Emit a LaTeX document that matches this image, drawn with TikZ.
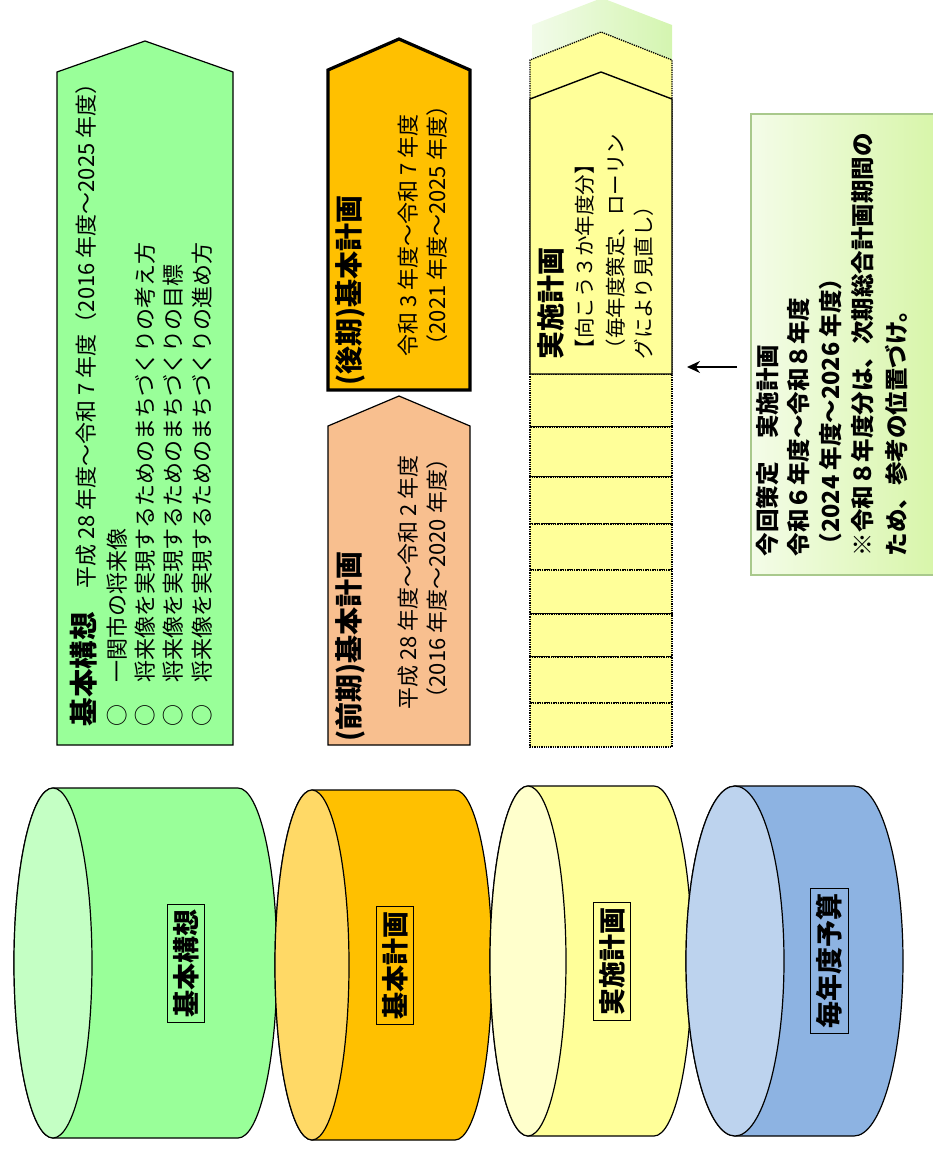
\documentclass[tikz,border=0pt]{standalone}
\usepackage{fontspec}
\setmainfont{Noto Sans CJK JP}
\usepackage{xcolor}
\usepackage{tikz}
\usetikzlibrary{arrows.meta}

\definecolor{kousouG}{HTML}{99FF99}
\definecolor{zenkiO}{HTML}{F8BF8F}
\definecolor{koukiO}{HTML}{FFC000}
\definecolor{jisshiY}{HTML}{FFFF99}
\definecolor{shadeL}{HTML}{F2FBEA}
\definecolor{shadeR}{HTML}{D4F5B0}
\definecolor{noteL}{HTML}{F4FCE8}
\definecolor{noteR}{HTML}{D6F5A6}
\definecolor{noteBd}{HTML}{A9C98C}
\definecolor{cylG}{HTML}{99FF99}
\definecolor{cylGf}{HTML}{C4FFC4}
\definecolor{cylO}{HTML}{FFC000}
\definecolor{cylOf}{HTML}{FFD966}
\definecolor{cylY}{HTML}{FFFF99}
\definecolor{cylYf}{HTML}{FFFFCC}
\definecolor{cylB}{HTML}{8DB3E2}
\definecolor{cylBf}{HTML}{BDD3EE}

\begin{document}
\begin{tikzpicture}[x=1pt,y=-1pt,line width=1.2pt,
        vtxt/.style={rotate=90,anchor=west,inner sep=0pt,font=\fontsize{22}{22}\selectfont},
        jtxt/.style={vtxt,font=\fontsize{20.5}{20.5}\selectfont},
        vbold/.style={vtxt,font=\fontsize{28}{28}\selectfont\bfseries},
        nbold/.style={vtxt,font=\fontsize{23.5}{23.5}\selectfont\bfseries},
        dotbox/.style={densely dotted,line width=1.3pt,fill=jisshiY},
        cyllbl/.style={draw,line width=0.9pt,rotate=90,inner xsep=5pt,inner ysep=6pt,font=\fontsize{27}{27}\selectfont\bfseries}]
    \clip (0,0) rectangle (933,1154);
    % pentagons
    \draw [fill=kousouG] (57,745) -- (57,72) -- (145,41) -- (233,72) -- (233,745) -- cycle;
    \draw [fill=zenkiO] (328,745) -- (328,426) -- (399,396) -- (470,426) -- (470,745) -- cycle;
    \draw [fill=koukiO,line width=3.2pt] (328,390) -- (328,70) -- (399,39) -- (470,70) -- (470,390) -- cycle;
    % jisshi column
    \shade [left color=shadeL,right color=shadeR] (532,78) -- (532,25) -- (602,-2) -- (672,25) -- (672,78) -- cycle;
    \draw [dotbox] (530,374) -- (530,60) -- (601,32) -- (672,60) -- (672,374) -- cycle;
    \foreach \ya/\yb in {374/427,427/477,477/524,524/570,570/614,614/657,657/703,703/747}{
        \draw [dotbox] (530,\ya) rectangle (672,\yb);
    }
    \draw [fill=jisshiY,line width=1.4pt] (530,374) -- (530,99) -- (601,72) -- (672,99) -- (672,374) -- cycle;
    % texts
    \node [vtxt] (kk1) at (84,727) {{\fontsize{28.5}{28.5}\selectfont\bfseries 基本構想}\hspace{24pt}平成 28 年度～令和 7 年度（2016 年度～2025 年度）};
    \node [vtxt] (kk2) at (117,727) {○　一関市の将来像};
    \node [vtxt] (kk3) at (145,727) {○　将来像を実現するためのまちづくりの考え方};
    \node [vtxt] (kk4) at (173,727) {○　将来像を実現するためのまちづくりの目標};
    \node [vtxt] (kk5) at (202,727) {○　将来像を実現するためのまちづくりの進め方};
    \node [vbold] (zk1) at (350,742) {(前期)基本計画};
    \node [vtxt] (zk2) at (408,710) {平成 28 年度～令和 2 年度};
    \node [vtxt] (zk3) at (437,710) {（2016 年度～2020 年度）};
    \node [vbold] (kk1b) at (350,386) {(後期)基本計画};
    \node [vtxt] (kk2b) at (408,357) {令和 3 年度～令和 7 年度};
    \node [vtxt] (kk3b) at (437,357) {（2021 年度～2025 年度）};
    \node [vbold] (js1) at (551,360) {実施計画};
    \node [jtxt] (js2) at (585,360) {【向こう３か年度分】};
    \node [jtxt] (js3) at (616,360) {（毎年度策定、ローリン};
    \node [jtxt] (js4) at (644,360) {グにより見直し）};
    % note
    \node [draw=noteBd,line width=1.5pt,left color=noteL,right color=noteR,minimum width=195pt,minimum height=461pt,anchor=north west] (note) at (750,113) {};
    \node [nbold] (nt1) at (768,557) {今回策定　実施計画};
    \node [nbold] (nt2) at (799,557) {令和６年度～令和８年度};
    \node [nbold] (nt3) at (831,557) {（2024 年度～2026 年度）};
    \node [nbold] (nt4) at (863,557) {※令和８年度分は、次期総合計画期間の};
    \node [nbold] (nt5) at (896,557) {ため、参考の位置づけ。};
    \coordinate (arrE) at (687,367);
    \draw [-{Stealth[length=13pt,width=12pt]},line width=1.3pt,shorten <=13pt] (note.west |- arrE) -- (arrE);
    % cylinders
    \foreach \cx/\cy/\rx/\len/\bd/\fr/\lx/\txt [count=\i] in {53/963/39/185/cylG/cylGf/186/基本構想,312/965/37/143/cylO/cylOf/395/基本計画,528/961/38/126/cylY/cylYf/612/実施計画,735/961/49/119/cylB/cylBf/829/毎年度予算}{
        \draw [fill=\bd] (\cx,{\cy-175}) -- ({\cx+\len},{\cy-175}) arc [start angle=-90,end angle=90,x radius=\rx,y radius=175] -- (\cx,{\cy+175}) arc [start angle=90,end angle=270,x radius=\rx,y radius=175] -- cycle;
        \draw [fill=\fr] (\cx,\cy) ellipse [x radius=\rx,y radius=175];
        \node [cyllbl] (cyl\i) at (\lx,\cy) {\txt};
    }
\end{tikzpicture}
\end{document}
